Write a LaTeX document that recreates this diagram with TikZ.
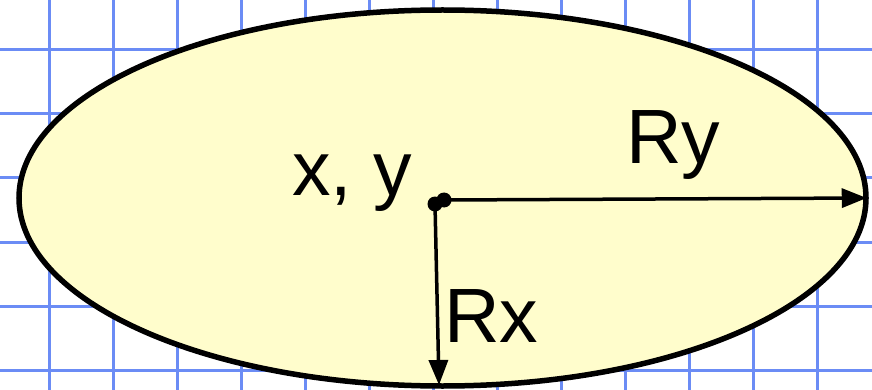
\documentclass[tikz,border=0pt]{standalone}
\usepackage{fontspec}
\setmainfont{Liberation Sans}
\usetikzlibrary{arrows.meta,shapes.geometric}
\definecolor{gridblue}{RGB}{107,140,245}
\definecolor{ellfill}{RGB}{255,253,204}
\tikzset{
  gridline/.style={draw=gridblue,line width=3pt},
  dot/.style={circle,fill=black,inner sep=0pt,minimum size=15pt},
  radius arrow/.style={draw=black,line width=3.5pt,-{Triangle[length=25pt,width=19pt]}},
  label text/.style={inner sep=0pt,font=\fontsize{77}{77}\selectfont}
}
\begin{document}
\begin{tikzpicture}[x=1pt,y=-1pt]
\useasboundingbox (0,0) rectangle (872,390);
\foreach \gx in {0,...,12} {\draw[gridline] (49+64*\gx,0) -- (49+64*\gx,390);}
\foreach \gy in {0,...,5} {\draw[gridline] (0,50+64*\gy) -- (872,50+64*\gy);}
\node[ellipse,draw=black,line width=5.5pt,fill=ellfill,minimum width=847pt,minimum height=376pt,inner sep=0pt] (ell) at (442.5,198) {};
\node[dot] (c1) at (435,204) {};
\node[dot] (c2) at (444,200) {};
\coordinate (rxend) at (439,385);
\draw[radius arrow] (c2.center) -- ([xshift=-2pt]ell.east);
\draw[radius arrow] (c1.center) -- (rxend);
\node[label text,anchor=base west] (xy) at (292,196) {x, y};
\node[label text,anchor=base west] (ry) at (626,164) {Ry};
\node[label text,anchor=base west] (rx) at (444,342) {Rx};
\end{tikzpicture}
\end{document}
